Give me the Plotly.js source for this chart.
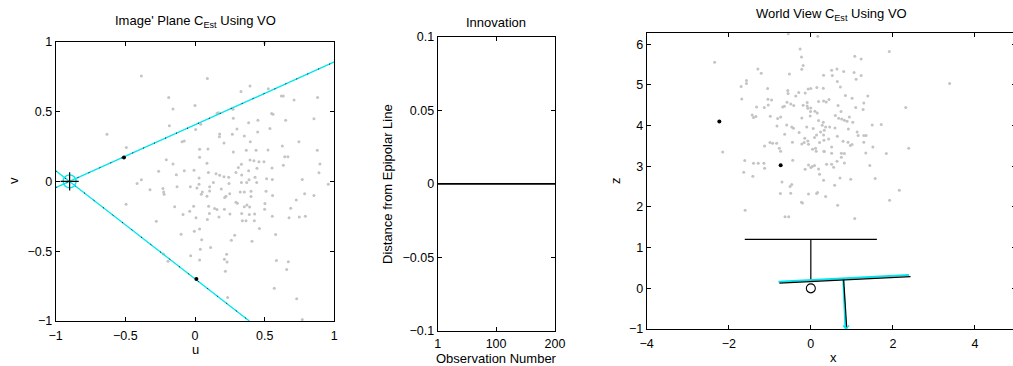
<!DOCTYPE html>
<html>
<head>
<meta charset="utf-8">
<script src="https://cdn.plot.ly/plotly-3.0.1.min.js"></script>
<style>
html,body{margin:0;padding:0;background:#fff;}
#wrap{width:1013px;height:366px;overflow:hidden;position:relative;}
#plot{width:1030px;height:366px;}
</style>
</head>
<body>
<div id="wrap"><div id="plot"></div></div>
<script>
// ---------- Left panel: image plane ----------
const imgU = [0.50,-0.385,0.089,0.395,0.33,0.526,-0.189,0.0,-0.158,0.62,0.634,0.711,0.88,0.854,0.651,0.55,0.56,0.158,0.167,0.273,0.275,0.385,0.452,0.45,0.538,-0.184,0.005,0.041,-0.632,0.177,0.175,0.301,0.268,0.354,0.208,0.397,-0.077,-0.093,-0.493,0.746,0.627,0.033,0.093,0.275,0.368,0.438,0.524,0.878,0.644,0.667,0.033,-0.206,-0.158,0.086,0.395,0.423,0.459,0.495,0.333,0.311,0.385,0.445,0.553,0.634,0.897,0.89,-0.261,-0.134,-0.077,-0.007,0.029,0.096,0.151,0.177,0.208,0.242,0.294,0.335,0.388,0.431,0.514,0.555,-0.385,0.77,0.957,
-0.416,-0.323,-0.23,-0.225,-0.222,-0.129,-0.033,0.014,0.029,0.053,0.045,0.086,0.105,0.105,0.132,0.189,0.222,0.213,0.244,0.249,0.294,0.304,0.333,0.325,0.354,0.371,0.402,0.402,0.443,0.51,0.557,0.502,0.5,0.354,0.373,0.392,0.727,0.787,0.854,0.687,-0.495,-0.146,-0.01,0.098,0.141,0.158,0.211,0.251,0.335,0.39,0.428,0.555,0.675,0.749,0.792,-0.086,-0.038,0.007,0.103,0.172,0.089,-0.278,0.34,0.366,0.426,0.462,0.285,0.261,0.409,0.579,-0.1,-0.005,0.033,0.048,0.038,0.112,-0.031,0.033,0.227,0.211,0.23,0.218,-0.227,-0.194,0.584,0.67,0.658,0.569,0.73,0.234,0.77];
const imgV = [0.99,0.754,0.737,0.683,0.644,0.663,0.601,0.544,0.518,0.611,0.611,0.582,0.601,0.449,0.437,0.485,0.48,0.485,0.492,0.516,0.451,0.42,0.437,0.353,0.379,0.399,0.372,0.408,0.337,0.339,0.32,0.375,0.337,0.325,0.274,0.284,0.289,0.284,0.243,0.284,0.253,0.229,0.232,0.21,0.222,0.222,0.224,0.222,0.177,0.177,0.172,0.155,0.124,0.129,0.153,0.148,0.141,0.141,0.122,0.1,0.076,0.093,0.095,0.115,0.124,0.062,0.072,0.048,0.076,0.079,0.024,0.064,0.055,0.043,0.033,0.029,0.064,0.045,0.012,0.029,0.019,0.014,0.012,0.014,-0.021,
-0.016,-0.061,-0.052,-0.076,-0.092,-0.038,-0.038,-0.047,-0.021,-0.076,-0.092,-0.107,-0.038,-0.069,-0.009,-0.054,-0.107,-0.116,-0.016,-0.088,-0.15,-0.157,-0.009,-0.076,-0.076,-0.009,-0.071,-0.109,-0.009,-0.071,-0.102,-0.159,-0.2,-0.181,-0.169,-0.183,-0.133,-0.088,-0.102,-0.193,-0.164,-0.181,-0.178,-0.178,-0.195,-0.202,-0.2,-0.233,-0.231,-0.238,-0.233,-0.25,-0.26,-0.255,-0.25,-0.238,-0.214,-0.26,-0.231,-0.255,-0.274,-0.286,-0.283,-0.283,-0.283,-0.338,-0.386,-0.422,-0.429,-0.381,-0.379,-0.357,-0.341,-0.419,-0.486,-0.474,-0.532,-0.563,-0.522,-0.558,-0.577,-0.644,-0.52,-0.572,-0.567,-0.575,-0.632,-0.765,-0.84,-0.832,-0.99];
const matchedU = [-0.51, 0.01];
const matchedV = [0.17, -0.70];
const epiUpperU = [-1, 1];
const epiUpperV = [-0.045, 0.855];
const epiLowerU = [-1, 0.39];
const epiLowerV = [0.076, -1];
const epipoleU = [-0.90];
const epipoleV = [0];

// ---------- Middle panel: innovation ----------
const obsNumber = [1, 50, 100, 150, 200];
const innovation = [0, 0, 0, 0, 0];
const innovTickVals = [-0.1, -0.05, 0, 0.05, 0.1];
const innovTickText = ['\u22120.1', '\u22120.05', '0', '0.05', '0.1'];

// ---------- Right panel: world view ----------
const worldX = [0.17,-0.261,1.912,-2.344,-0.228,-0.188,-0.22,1.071,1.226,-1.291,-1.209,-0.522,0.507,0.638,0.523,0.311,0.801,1.054,1.226,1.103,0.646,-1.568,-1.568,-1.699,-1.053,-0.563,-0.555,-0.367,-0.294,-0.138,-0.065,0,0.147,0.303,0.72,0.842,1.005,1.389,1.291,1.275,1.095,3.383,2.313,-1.683,-1.045,-0.955,-1.037,-1.323,-1.135,-1.429,-1.397,-1.339,-0.988,-0.808,-0.735,-0.825,-0.686,-0.645,-0.58,-0.49,-0.416,-0.188,-0.089,-0.089,-0.073,0,-0.008,0.099,0.156,0.188,0.311,0.376,0.442,0.663,0.736,0.597,0.679,0.752,0.817,0.94,0.883,1.022,-0.016,-0.22,0.188,0.303,0.36,0.278,0.327,0.458,0.589,0.237,0.139,0.09,0.058,-0.1,-0.285,-0.465,-0.424,-0.588,-0.637,-0.147,-0.073,-0.163,-0.449,-0.22,-0.057,0.041,0.115,0.327,0.433,0.311,0.319,0.213,0.507,0.646,0.785,0.907,0.964,1.005,0.915,1.128,1.152,1.291,1.348,1.291,1.512,1.495,1.716,2.386,1.839,0.507,0.744,0.817,-1.127,-0.996,-0.931,-0.833,-0.768,-0.735,-2.148,0.131,0.319,1.34,
0.744,0.638,-1.61,-1.397,-1.282,-1.143,-1.127,-1.634,-1.413,-0.441,-0.139,-0.057,0,0.033,0.09,0.188,0.213,0.384,0.507,0.556,0.817,0.711,0.311,0.58,0.973,1.438,1.569,-0.702,-0.465,-0.506,-0.743,-0.49,-0.228,-0.204,-0.057,0.139,0.164,0.36,0.654,2.157,1.92,-1.601,-0.629,-0.539,1.071,-0.55];
const worldZ = [6.2,5.885,5.82,5.557,5.689,5.476,5.386,5.705,5.639,5.394,5.287,5.271,5.361,5.394,5.23,5.238,5.328,5.304,5.23,5.14,5.082,5.107,5.033,4.96,4.91,4.861,4.788,4.73,4.812,4.804,4.902,4.91,4.935,4.919,4.951,4.738,4.673,4.73,4.558,4.394,4.443,5.033,4.443,4.656,4.648,4.632,4.509,4.46,4.443,4.263,4.198,4.222,4.23,4.173,4.214,3.993,4.46,4.476,4.575,4.534,4.493,4.501,4.566,4.485,4.427,4.435,4.345,4.353,4.313,4.591,4.607,4.583,4.64,4.493,4.345,4.247,4.181,4.165,4.132,4.214,4.108,4.083,4.239,4.19,4.124,4.083,3.969,4.01,3.887,3.969,3.944,3.846,3.772,3.707,3.928,3.969,3.829,3.969,3.936,4.018,3.788,3.69,3.625,3.584,3.592,3.551,3.543,3.42,3.445,3.363,3.674,3.772,3.641,3.584,3.477,3.739,3.617,3.592,3.51,3.535,3.92,3.846,3.756,3.756,3.756,3.592,3.477,4.018,4.026,3.444,3.313,3.322,3.322,3.313,3.502,3.584,3.567,3.567,3.445,3.371,3.354,3.37,3.37,3.33,
3.223,3.125,3.141,3.075,3.075,3.075,2.953,2.854,2.756,3.149,2.928,3.034,2.969,2.993,3.018,2.936,2.805,3.051,3.051,2.977,3.084,2.715,2.658,2.535,2.682,3.018,2.699,2.617,2.551,2.502,2.33,2.338,2.117,2.1,2.322,2.33,2.355,2.256,2.043,2.412,2.166,1.921,1.757,1.757,1.716,6.26];
const worldMatchedX = [-2.23, -0.735];
const worldMatchedZ = [4.10, 3.026];
// previous camera (black): image-plane bar and optical axis
const camPrevX = [-1.61, 1.61, null, 0, 0];
const camPrevZ = [1.205, 1.205, null, 1.205, 0.165];
const camOriginX = [0];
const camOriginZ = [0];
// current camera, estimated (black) and true (cyan)
const camEstX = [-0.767, 2.43, null, 0.80, 0.875];
const camEstZ = [0.128, 0.29, null, 0.21, -0.98];
const camTrueX = [-0.79, 2.39, null, 0.79, 0.845];
const camTrueZ = [0.16, 0.33, null, 0.225, -0.985];
const camTrueCentreX = [0.86];
const camTrueCentreZ = [-0.985];

const FONT = 'Liberation Sans, Arial, Helvetica, sans-serif';
const GRAY = '#c4c4c4';
const CYAN = '#00e5ee';

const traces = [
  // left
  {x: imgU, y: imgV, xaxis:'x', yaxis:'y', mode:'markers', type:'scatter',
   marker:{size:3, color:GRAY}, hoverinfo:'skip'},
  {x: epiUpperU, y: epiUpperV, xaxis:'x', yaxis:'y', mode:'lines', line:{color:CYAN, width:1.3}},
  {x: epiLowerU, y: epiLowerV, xaxis:'x', yaxis:'y', mode:'lines', line:{color:CYAN, width:1.3}},
  {x: epiUpperU, y: epiUpperV, xaxis:'x', yaxis:'y', mode:'lines', line:{color:'#000', width:1, dash:'1px,11px'}},
  {x: epiLowerU, y: epiLowerV, xaxis:'x', yaxis:'y', mode:'lines', line:{color:'#000', width:1, dash:'1px,11px'}},
  {x: matchedU, y: matchedV, xaxis:'x', yaxis:'y', mode:'markers', marker:{size:4, color:'#000'}},
  {x: epipoleU, y: epipoleV, xaxis:'x', yaxis:'y', mode:'markers',
   marker:{symbol:'circle-open', size:13, color:CYAN, line:{width:1.3, color:CYAN}}},
  {x: epipoleU, y: epipoleV, xaxis:'x', yaxis:'y', mode:'markers',
   marker:{symbol:'cross-thin-open', size:13, color:'#000', line:{width:1.2, color:'#000'}}},
  // middle
  {x: obsNumber, y: innovation, xaxis:'x2', yaxis:'y2', mode:'lines', line:{color:'#000', width:1.6}},
  // right
  {x: worldX, y: worldZ, xaxis:'x3', yaxis:'y3', mode:'markers', marker:{size:3, color:GRAY}, cliponaxis:true},
  {x: worldMatchedX, y: worldMatchedZ, xaxis:'x3', yaxis:'y3', mode:'markers', marker:{size:4, color:'#000'}},
  {x: camPrevX, y: camPrevZ, xaxis:'x3', yaxis:'y3', mode:'lines', line:{color:'#000', width:1.2}},
  {x: camOriginX, y: camOriginZ, xaxis:'x3', yaxis:'y3', mode:'markers',
   marker:{symbol:'circle-open', size:9, color:'#000', line:{width:1.1, color:'#000'}}},
  {x: camTrueX, y: camTrueZ, xaxis:'x3', yaxis:'y3', mode:'lines', line:{color:CYAN, width:2}},
  {x: camEstX, y: camEstZ, xaxis:'x3', yaxis:'y3', mode:'lines', line:{color:'#000', width:1.2}},
  {x: camTrueCentreX, y: camTrueCentreZ, xaxis:'x3', yaxis:'y3', mode:'markers',
   marker:{symbol:'x-thin-open', size:6, color:CYAN, line:{width:1.4, color:CYAN}}}
];

const axBase = {
  showgrid:false, zeroline:false, showline:true, linecolor:'#000', linewidth:1,
  mirror:'ticks', ticks:'inside', ticklen:4, tickwidth:1, tickcolor:'#000',
  tickfont:{family:FONT, size:12.5, color:'#000'}, fixedrange:true
};
const xBase = Object.assign({}, axBase, {ticklabelstandoff:3});

const W = 1030, H = 366;
const px = v => v / W;
const py = v => 1 - v / H;

const ann = (text, x, y, opts) => Object.assign({
  text, x: px(x), y: py(y), xref:'paper', yref:'paper', showarrow:false,
  xanchor:'center', yanchor:'middle', font:{family:FONT, size:13, color:'#000'}
}, opts || {});

const layout = {
  width: W, height: H,
  margin:{l:0, r:0, t:0, b:0},
  paper_bgcolor:'#fff', plot_bgcolor:'#fff',
  showlegend:false,
  font:{family:FONT, size:12, color:'#000'},
  xaxis: Object.assign({}, xBase, {domain:[px(55.7), px(334.3)], range:[-1,1], dtick:0.5, anchor:'y'}),
  yaxis: Object.assign({}, axBase, {domain:[py(321), py(41.7)], range:[-1,1], dtick:0.5, anchor:'x'}),
  xaxis2: Object.assign({}, xBase, {domain:[px(437.7), px(555)], range:[1,200], tickvals:[1,100,200], anchor:'y2', ticklabelstandoff:1}),
  yaxis2: Object.assign({}, axBase, {domain:[py(331), py(36.7)], range:[-0.1,0.1], tickvals:innovTickVals, ticktext:innovTickText, anchor:'x2'}),
  xaxis3: Object.assign({}, xBase, {domain:[px(646.7), px(1016)], range:[-4,5], dtick:2, tick0:0, anchor:'y3'}),
  yaxis3: Object.assign({}, axBase, {domain:[py(329), py(33.3)], range:[-1,6.27], dtick:1, anchor:'x3'}),
  annotations: [
    ann("Image' Plane C<sub>Est</sub> Using VO", 195, 22),
    ann('Innovation', 496.3, 23),
    ann('World View C<sub>Est</sub> Using VO', 831.5, 14),
    ann('u', 195, 349),
    ann('v', 13, 181, {textangle:-90}),
    ann('Observation Number', 496.3, 358),
    ann('Distance from Epipolar Line', 387, 184, {textangle:-90}),
    ann('x', 833, 357),
    ann('z', 615, 181, {textangle:-90})
  ]
};

Plotly.newPlot('plot', traces, layout, {staticPlot:true, displayModeBar:false});
</script>
</body>
</html>
